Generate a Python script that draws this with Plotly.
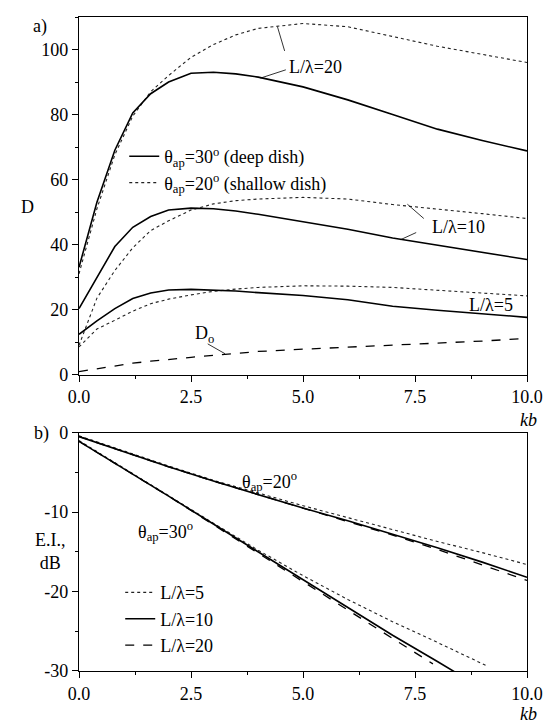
import plotly.graph_objects as go

# ---------------- data: panel a) directivity D vs kb ----------------
kb_a = [0, 0.4, 0.8, 1.2, 1.6, 2.0, 2.5, 3.0, 3.5, 4.0, 5.0, 6.0, 7.0, 8.0, 9.0, 10.0]
d30_L20 = [33, 53, 69, 80.5, 86.4, 90, 92.7, 93, 92.5, 91.5, 88.5, 84.5, 80, 75.5, 72, 68.8]
d20_L20 = [31, 51, 67.6, 79.5, 87, 92, 97.6, 101.5, 104.5, 106.5, 108, 107, 104, 101, 98.5, 96]
d30_L10 = [20.3, 30, 39.4, 45.3, 48.6, 50.6, 51.2, 51, 50.3, 49.3, 47, 44.7, 42, 39.8, 37.5, 35.4]
d20_L10 = [9, 23.5, 32, 39, 44.3, 47.3, 50.6, 52.5, 53.5, 54, 54.5, 54, 52.3, 51, 49.5, 48]
d30_L5 = [12.4, 16.5, 20.3, 23.4, 25.1, 26, 26.2, 26, 25.7, 25.2, 24.3, 23, 21, 19.8, 18.6, 17.6]
d20_L5 = [8.5, 14, 16.7, 19.5, 21.8, 23.2, 24.5, 25.6, 26.3, 26.8, 27.3, 27.2, 26.8, 26, 25.2, 24.2]
d_o = [0.9, 1.8, 2.7, 3.5, 4.1, 4.7, 5.3, 5.9, 6.5, 7.1, 7.8, 8.4, 9.0, 9.6, 10.3, 11.1]

# ---------------- data: panel b) E.I. (dB) vs kb ----------------
kb_b = [0, 1, 2, 3, 4, 5, 6, 7, 8, 9, 10]
ei20_L5 = [-0.4, -2.3, -4.2, -6.0, -7.6, -9.2, -10.7, -12.2, -13.7, -15.1, -16.6]
ei20_L10 = [-0.5, -2.4, -4.3, -6.1, -7.8, -9.5, -11.1, -12.8, -14.5, -16.3, -18.2]
ei20_L20 = [-0.5, -2.4, -4.3, -6.1, -7.8, -9.5, -11.2, -12.9, -14.7, -16.6, -18.6]

kb30_L5 = [0, 1, 2, 3, 4, 5, 6, 7, 8, 9, 9.12]
ei30_L5 = [-1.0, -4.5, -8.0, -11.4, -14.8, -18.0, -21.0, -23.8, -26.4, -29.0, -29.4]
kb30_L10 = [0, 1, 2, 3, 4, 5, 6, 7, 8, 9]
ei30_L10 = [-1.1, -4.5, -8.0, -11.5, -15.0, -18.5, -22.0, -25.5, -28.8, -32.2]
kb30_L20 = [0, 1, 2, 3, 4, 5, 6, 7, 7.9]
ei30_L20 = [-1.1, -4.5, -8.0, -11.6, -15.2, -18.8, -22.4, -25.9, -29.1]

# tick labels
x_ticks = [0, 2.5, 5, 7.5, 10]
x_labels = ["0.0", "2.5", "5.0", "7.5", "10.0"]
ya_ticks = [0, 20, 40, 60, 80, 100]
ya_labels = ["0", "20", "40", "60", "80", "100"]
yb_ticks = [0, -10, -20, -30]
yb_labels = ["0", "-10", "-20", "-30"]

FONT = "Liberation Serif"
BLK = "black"
SOLID = dict(color=BLK, width=1.6, dash="solid")
DOT = dict(color="#222", width=1.1, dash="dot")
DASH_A = dict(color=BLK, width=1.3, dash="dash")
DASH_B = dict(color=BLK, width=1.3, dash="dash")

fig = go.Figure()

def add(x, y, line, xa="x", ya="y", name=None, legend=None, rank=None):
    kw = dict(x=x, y=y, mode="lines", line=line, xaxis=xa, yaxis=ya)
    if name is None:
        kw["showlegend"] = False
    else:
        kw.update(name=name, showlegend=True, legend=legend, legendrank=rank)
    fig.add_trace(go.Scatter(**kw))

TH30 = "θ<sub>ap</sub>=30<sup>o</sup> (deep dish)"
TH20 = "θ<sub>ap</sub>=20<sup>o</sup> (shallow dish)"

# panel a
add(kb_a, d20_L20, DOT, name=TH20, legend="legend", rank=2)
add(kb_a, d20_L10, DOT)
add(kb_a, d20_L5, DOT)
add(kb_a, d30_L20, SOLID, name=TH30, legend="legend", rank=1)
add(kb_a, d30_L10, SOLID)
add(kb_a, d30_L5, SOLID)
add(kb_a, d_o, DASH_A)

# panel b
add(kb_b, ei20_L5, DOT, "x2", "y2")
add(kb_b, ei20_L20, DASH_B, "x2", "y2")
add(kb_b, ei20_L10, SOLID, "x2", "y2")
add(kb30_L5, ei30_L5, DOT, "x2", "y2", name="L/λ=5", legend="legend2", rank=1)
add(kb30_L20, ei30_L20, DASH_B, "x2", "y2", name="L/λ=20", legend="legend2", rank=3)
add(kb30_L10, ei30_L10, SOLID, "x2", "y2", name="L/λ=10", legend="legend2", rank=2)

axis_common = dict(
    showgrid=False, zeroline=False, showline=True, mirror=True,
    linecolor=BLK, linewidth=1.3, ticks="outside", ticklen=6, tickwidth=1.2,
    tickcolor=BLK, tickfont=dict(family=FONT, size=18, color=BLK),
    tickmode="array",
)

H_TOP = 0.4533
H_BOT = 0.3645
LEGFONT = dict(family=FONT, size=18, color=BLK)

fig.update_layout(
    width=550, height=724,
    margin=dict(l=79, r=17, t=7, b=53),
    font=dict(family=FONT, size=18, color=BLK),
    plot_bgcolor="white",
    legend=dict(x=0.101, y=0.815, xanchor="left", yanchor="top", font=LEGFONT,
                bgcolor="rgba(0,0,0,0)", borderwidth=0, tracegroupgap=0),
    legend2=dict(x=0.092, y=0.148, xanchor="left", yanchor="top", font=LEGFONT,
                 bgcolor="rgba(0,0,0,0)", borderwidth=0, tracegroupgap=0),
    xaxis=dict(axis_common, domain=[0, 1], range=[0, 10],
               tickvals=x_ticks, ticktext=x_labels, anchor="y",
               minor=dict(dtick=1.25, tick0=0, ticks="outside", ticklen=3, tickcolor=BLK)),
    yaxis=dict(axis_common, domain=[H_TOP, 1], range=[0, 110],
               tickvals=ya_ticks, ticktext=ya_labels, anchor="x",
               minor=dict(dtick=10, tick0=0, ticks="outside", ticklen=3, tickcolor=BLK)),
    xaxis2=dict(axis_common, domain=[0, 1], range=[0, 10],
                tickvals=x_ticks, ticktext=x_labels, anchor="y2",
                minor=dict(dtick=1.25, tick0=0, ticks="outside", ticklen=3, tickcolor=BLK)),
    yaxis2=dict(axis_common, domain=[0, H_BOT], range=[-30, 0],
                tickvals=yb_ticks, ticktext=yb_labels, anchor="x2",
                minor=dict(dtick=5, tick0=0, ticks="outside", ticklen=3, tickcolor=BLK)),
)

ann = []
def text(x, y, s, xanchor="left"):
    ann.append(dict(x=x, y=y, xref="paper", yref="paper", text=s, showarrow=False,
                    xanchor=xanchor, yanchor="middle",
                    font=dict(family=FONT, size=18, color=BLK)))

# panel labels and axis titles
text(-0.086, 0.985, "a)", xanchor="center")
text(-0.062, 0.363, "b)", xanchor="right")
text(-0.1145, 0.709, "D", xanchor="center")
text(-0.064, 0.182, "E.I.,<br>dB", xanchor="center")
text(1.003, 0.384, "<i>kb</i>", xanchor="center")
text(1.003, -0.065, "<i>kb</i>", xanchor="center")

# curve labels panel a
text(0.465, 0.923, "L/λ=20")
text(0.784, 0.679, "L/λ=10")
text(0.866, 0.560, "L/λ=5")
text(0.2555, 0.514, "D<sub>o</sub>")

# curve labels panel b
text(0.359, 0.289, "θ<sub>ap</sub>=20<sup>o</sup>")
text(0.1278, 0.214, "θ<sub>ap</sub>=30<sup>o</sup>")

# leader lines as arrow-only annotations (tip, tail) in data coordinates
for (tx, ty, ax, ay) in [(4.43, 107.0, 4.60, 99.1), (4.05, 91.2, 4.65, 93.9),
                         (7.33, 52.4, 7.73, 47.6), (7.18, 41.5, 7.56, 43.9),
                         (3.26, 6.4, 2.84, 9.7)]:
    ann.append(dict(x=tx, y=ty, xref="x", yref="y", ax=ax, ay=ay, axref="x", ayref="y",
                    text="", showarrow=True, arrowhead=0, arrowwidth=0.8,
                    arrowcolor=BLK, standoff=0, startstandoff=0))

fig.update_layout(annotations=ann)
fig.write_html("out.html")
